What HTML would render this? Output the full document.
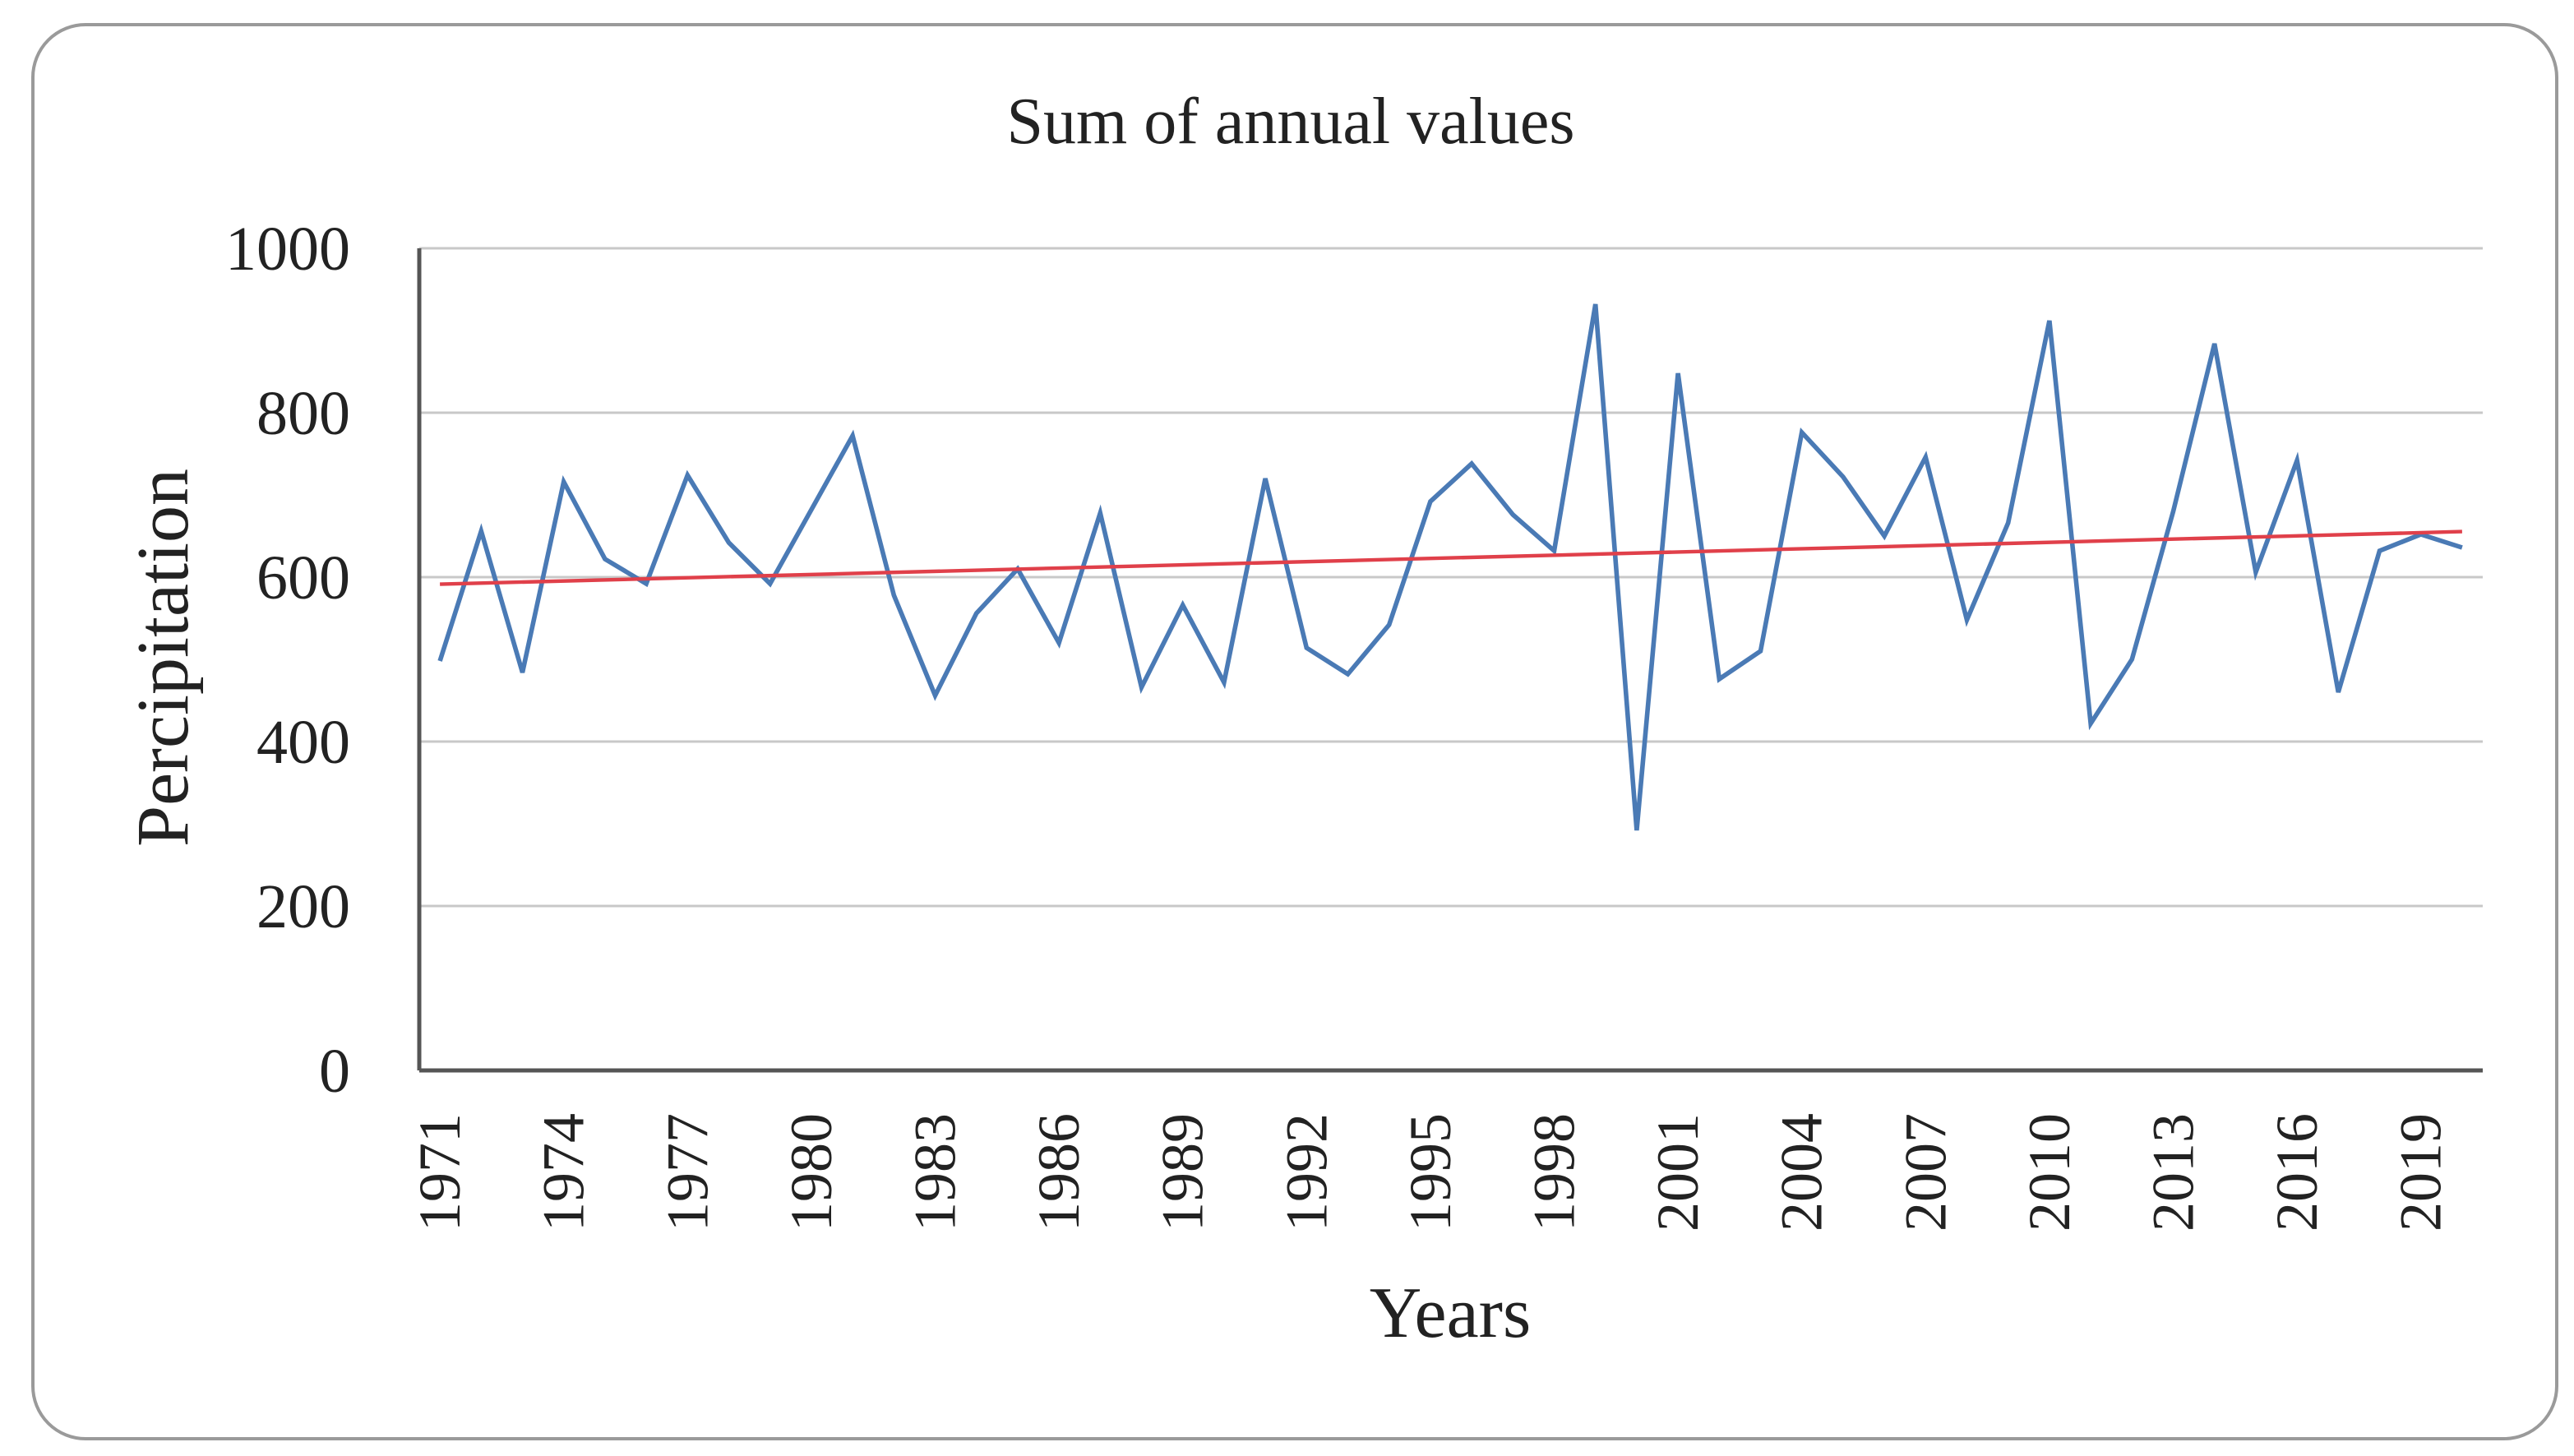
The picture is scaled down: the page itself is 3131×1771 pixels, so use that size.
<!DOCTYPE html>
<html><head><meta charset="utf-8"><style>
html,body{margin:0;padding:0;background:#fff;}
svg{display:block;}
text{font-family:"Liberation Serif",serif;fill:#222;}
</style></head><body>
<svg id="chart" width="3131" height="1771" viewBox="0 0 1565.5 885.5">
<rect x="20" y="15" width="1535" height="860" rx="32" ry="32" fill="#fff" stroke="#9a9a9a" stroke-width="2"/>
<text x="785" y="87" text-anchor="middle" font-size="40">Sum of annual values</text>
<g id="grid"></g>
<g id="yticks"></g>
<g id="xticks"></g>
<g id="series"></g>
<text x="882" y="813" text-anchor="middle" font-size="44">Years</text>
<text transform="translate(114,400) rotate(-90)" text-anchor="middle" font-size="45">Percipitation</text>
</svg>
<script>
const years = [];
for (let y = 1971; y <= 2020; y++) years.push(y);
const precip = [498,656,484,716,622,592,724,642,592,682,772,578,456,556,610,520,678,466,566,472,720,514,482,542,692,738,676,632,932,292,848,476,510,776,722,650,746,548,666,912,422,500,680,884,606,742,460,632,652,636];
const yTicks = [0,200,400,600,800,1000];
const xLabelYears = [1971,1974,1977,1980,1983,1986,1989,1992,1995,1998,2001,2004,2007,2010,2013,2016,2019];

const NS = "http://www.w3.org/2000/svg";
const L = 255, R = 1510, T = 151, B = 651;
const step = (R - L) / years.length;
const xs = i => L + step * (i + 0.5);
const ys = v => B - (v / 1000) * (B - T);
function mk(tag, attrs, parent){const e=document.createElementNS(NS,tag);for(const k in attrs)e.setAttribute(k,attrs[k]);parent.appendChild(e);return e;}

const grid = document.getElementById('grid');
yTicks.forEach(v => {
  if (v === 0) return;
  const ln = mk('line',{x1:L,x2:R,y1:ys(v),y2:ys(v),stroke:'#c8c8c8','stroke-width':1.5},grid);
  
  
});
const yAxis = mk('line',{x1:L,x2:L,y1:T,y2:B,stroke:'#555','stroke-width':2.5},grid);


const xAxis = mk('line',{x1:L,x2:R,y1:B,y2:B,stroke:'#555','stroke-width':2.5},grid);



const yt = document.getElementById('yticks');
yTicks.forEach(v => {
  const t = mk('text',{x:213,y:ys(v)+13,'text-anchor':'end','font-size':38},yt);
  t.textContent = v;
  
  
});
const xt = document.getElementById('xticks');
xLabelYears.forEach(yr => {
  const i = years.indexOf(yr);
  const x = xs(i) + 12;
  const t = mk('text',{transform:`translate(${x},677) rotate(-90)`,'text-anchor':'end','font-size':36},xt);
  t.textContent = yr;
  
  
});

const sg = document.getElementById('series');
const n = precip.length;
let sx=0,sy=0,sxy=0,sxx=0;
precip.forEach((v,i)=>{sx+=i;sy+=v;sxy+=i*v;sxx+=i*i;});
const slope=(n*sxy-sx*sy)/(n*sxx-sx*sx), icpt=(sy-slope*sx)/n;
const line = mk('polyline',{points:precip.map((v,i)=>xs(i)+','+ys(v)).join(' '),fill:'none',stroke:'#4a7ab5','stroke-width':2.8,'stroke-linejoin':'miter'},sg);


const trend = mk('line',{x1:xs(0),y1:ys(icpt),x2:xs(n-1),y2:ys(icpt+slope*(n-1)),stroke:'#e0404a','stroke-width':2.2},sg);


</script>
</body></html>
